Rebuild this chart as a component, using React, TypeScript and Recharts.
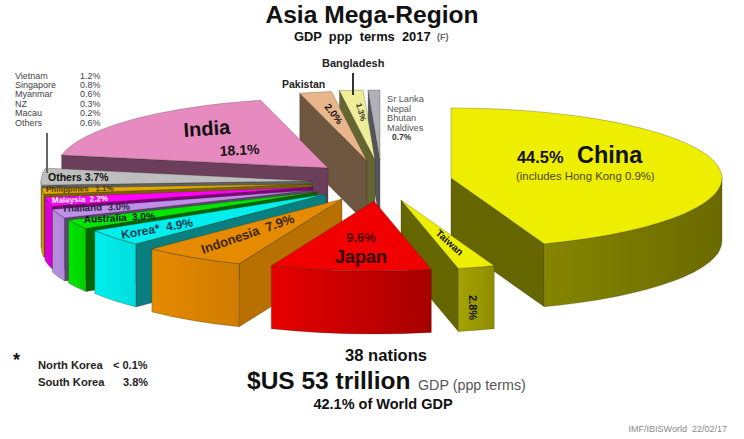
// App.tsx
import { PieChart, Pie } from "recharts";

const categories = [
  "China", "Taiwan", "Japan", "Indonesia", "Korea", "Australia", "Thailand",
  "Malaysia", "Philippines", "Others", "India", "Pakistan", "Bangladesh", "SriLanka",
];
const printedShares = [44.5, 2.8, 9.6, 7.9, 4.9, 3.0, 3.0, 2.2, 1.1, 3.7, 18.1, 2.0, 1.3, 0.7];
const drawnShares = [44.5, 2.2, 9.6, 6.2, 3.9, 2.2, 2.1, 2.1, 1.4, 3.9, 18.1, 1.9, 1.4, 0.7];

const otherNames = ["Vietnam", "Singapore", "Myanmar", "NZ", "Macau", "Others"];
const otherValues = ["1.2%", "0.8%", "0.6%", "0.3%", "0.2%", "0.6%"];
const southAsiaNames = ["Sr Lanka", "Nepal", "Bhutan", "Maldives"];

const data = categories.map((name, i) => ({
  name,
  share: drawnShares[i],
  printed: printedShares[i],
}));

// back to front, svg has no z-index
const paintOrder = [
  "SriLanka", "Bangladesh", "Pakistan", "India", "China", "Taiwan", "Others", "Philippines",
  "Malaysia", "Thailand", "Australia", "Korea", "Indonesia", "Japan",
];

const CX = 375;
const CY = 180;
const TILT = 70 / 271;
const DEPTH = 63;

// how far each slice is pulled out of the pie
const explode: Record<string, [number, number]> = {
  China: [76, -2],
  Taiwan: [26, 20],
  Japan: [-1, 21],
  Indonesia: [-33, 19],
  Korea: [-49, 14],
  Australia: [-58, 12],
  Thailand: [-62, 10],
  Malaysia: [-62, 7],
  Philippines: [-63, 4],
  Others: [-63, 1],
  India: [-47, -12],
  Pakistan: [-8, -19],
  Bangladesh: [0, -20],
  SriLanka: [5, -20],
};

// top, radial wall, rim left, rim right
const colors: Record<string, string[]> = {
  China: ["#eeee00", "#666600", "#858500", "#6a6a00"],
  Taiwan: ["#eeee00", "#666600", "#a3a300", "#8f8f00"],
  Japan: ["#f00000", "#a80000", "#e80000", "#a60000"],
  Indonesia: ["#e68a00", "#b87000", "#e68a00", "#cf7c00"],
  Korea: ["#00eeee", "#0a7f80", "#00eeee", "#00dede"],
  Australia: ["#00e600", "#006600", "#00e600", "#00d000"],
  Thailand: ["#c090e8", "#5a4a70", "#b88fe0", "#b088d8"],
  Malaysia: ["#ff00ff", "#800080", "#e000e0", "#d000d0"],
  Philippines: ["#e0a800", "#806000", "#d8a000", "#d8a000"],
  Others: ["#bebebe", "#606060", "#bebebe", "#bebebe"],
  India: ["#e78ac0", "#6b3f5c", "#6b3f5c", "#6b3f5c"],
  Pakistan: ["#e8b68a", "#6e5540", "#6e5540", "#6e5540"],
  Bangladesh: ["#eeee99", "#666633", "#666633", "#666633"],
  SriLanka: ["#b0b0b8", "#55555f", "#55555f", "#55555f"],
};

const EDGE = "rgba(40,40,20,0.45)";

function Slice(props: any) {
  const { name } = props.payload ?? props;
  const rx: number = props.outerRadius;
  const ry = rx * TILT;
  const [ox, oy] = explode[name];
  const ax = props.cx + ox;
  const ay = props.cy + oy;
  const [top, wall, rimL, rimR] = colors[name];
  // recharts angles -> clock angles
  const a1 = ((90 - props.startAngle) * Math.PI) / 180;
  const a2 = ((90 - props.endAngle) * Math.PI) / 180;
  const pt = (a: number, dy = 0): [number, number] => [
    ax + rx * Math.sin(a),
    ay - ry * Math.cos(a) + dy,
  ];
  const [x1, y1] = pt(a1);
  const [x2, y2] = pt(a2);
  const large = a2 - a1 > Math.PI ? 1 : 0;
  const topPath = `M${ax},${ay}L${x1},${y1}A${rx},${ry} 0 ${large} 1 ${x2},${y2}Z`;
  const radial = (x: number, y: number) =>
    `M${ax},${ay}L${x},${y}L${x},${y + DEPTH}L${ax},${ay + DEPTH}Z`;

  // only the front half of the rim faces the viewer
  const r1 = Math.max(a1, Math.PI / 2);
  const r2 = Math.min(a2, (3 * Math.PI) / 2);
  let rimPath = "";
  if (r2 > r1) {
    const [p, q] = pt(r1);
    const [s, t] = pt(r2);
    const big = r2 - r1 > Math.PI ? 1 : 0;
    rimPath = `M${p},${q}A${rx},${ry} 0 ${big} 1 ${s},${t}L${s},${t + DEPTH}A${rx},${ry} 0 ${big} 0 ${p},${q + DEPTH}Z`;
  }
  const gradId = `rim-${name}`;
  return (
    <g>
      <defs>
        <linearGradient id={gradId} x1="0" x2="1" y1="0" y2="0">
          <stop offset="0" stopColor={rimL} />
          <stop offset="1" stopColor={rimR} />
        </linearGradient>
      </defs>
      {x1 < ax && <path d={radial(x1, y1)} fill={wall} stroke={EDGE} strokeWidth={0.6} />}
      {x2 > ax && <path d={radial(x2, y2)} fill={wall} stroke={EDGE} strokeWidth={0.6} />}
      {rimPath && <path d={rimPath} fill={`url(#${gradId})`} stroke={EDGE} strokeWidth={0.6} />}
      <path d={topPath} fill={top} stroke={EDGE} strokeWidth={0.6} />
    </g>
  );
}

const SANS = "'Liberation Sans', Arial, sans-serif";

function T({ x, y, size, bold, fill = "#111", rotate, anchor, children }: any) {
  return (
    <text
      x={x}
      y={y}
      fontSize={size}
      fontWeight={bold ? 700 : 400}
      fill={fill}
      fontFamily={SANS}
      textAnchor={anchor}
      transform={rotate ? `rotate(${rotate} ${x} ${y})` : undefined}
      xmlSpace="preserve"
    >
      {children}
    </text>
  );
}

export default function App() {
  return (
    <div style={{ position: "absolute", left: 0, top: 0, width: 744, height: 439, background: "#fff" }}>
      <PieChart width={744} height={439} margin={{ top: 0, right: 0, bottom: 0, left: 0 }}>
        {paintOrder.map((n) => (
          <Pie
            key={n}
            data={data}
            dataKey="share"
            nameKey="name"
            cx={CX}
            cy={CY}
            outerRadius={271}
            startAngle={90}
            endAngle={-270}
            stroke="none"
            isAnimationActive={false}
            shape={(p: any) => ((p.payload ?? p).name === n ? <Slice {...p} /> : <g />)}
          />
        ))}
      </PieChart>

      <svg width={744} height={439} style={{ position: "absolute", left: 0, top: 0, pointerEvents: "none" }}>
        <T x={372} y={23} size={24.6} bold anchor="middle">Asia Mega-Region</T>
        <T x={294} y={40.5} size={12.9} bold>{"GDP  ppp  terms  2017"}</T>
        <T x={437} y={40} size={9} bold fill="#666">(F)</T>

        {otherNames.map((n, i) => (
          <T key={n} x={15} y={78.5 + i * 9.4} size={9} fill="#444">{n}</T>
        ))}
        {otherValues.map((v, i) => (
          <T key={i} x={80} y={78.5 + i * 9.4} size={9} fill="#444">{v}</T>
        ))}
        <line x1={47} y1={133} x2={47} y2={173} stroke="#666" strokeWidth={2} />

        <T x={184} y={137} size={20} bold rotate={-4}>India</T>
        <T x={220} y={156} size={14} bold rotate={-3}>18.1%</T>
        <T x={48} y={181} size={10.5} bold>Others 3.7%</T>
        <T x={46} y={192} size={8} bold fill="#4a3800" rotate={-1}>{"Philippines   1.1%"}</T>
        <T x={52} y={203} size={8} bold fill="#fff" rotate={-2}>{"Malaysia  2.2%"}</T>
        <T x={62} y={212} size={9.8} bold fill="#2a2040" rotate={-2}>{"Thailand  3.0%"}</T>
        <T x={84} y={223} size={10} bold fill="#012" rotate={-3}>{"Australia  3.0%"}</T>
        <T x={122} y={239} size={12} bold fill="#073c50" rotate={-10}>{"Korea*  4.9%"}</T>
        <T x={203} y={254} size={13} bold fill="#3a2500" rotate={-19}>{"Indonesia  7.9%"}</T>
        <T x={361} y={242} size={13} bold fill="#500" anchor="middle">9.6%</T>
        <T x={361} y={263} size={18} bold fill="#300" anchor="middle">Japan</T>
        <T x={435} y={234} size={10} bold rotate={42}>Taiwan</T>
        <T x={469} y={295} size={11} bold rotate={90}>2.8%</T>
        <T x={517} y={163} size={16.4} bold>44.5%</T>
        <T x={577} y={163} size={23.5} bold>China</T>
        <T x={516} y={180} size={11.4} fill="#4a4a00">(includes Hong Kong 0.9%)</T>

        <T x={282} y={88} size={10.5} bold fill="#222">Pakistan</T>
        <T x={322} y={67} size={11} bold fill="#222">Bangladesh</T>
        <line x1={353} y1={73} x2={353} y2={95} stroke="#333" strokeWidth={2} />
        <T x={324} y={107} size={10} bold rotate={52}>2.0%</T>
        <T x={356} y={104} size={8} bold fill="#333" rotate={75}>1.3%</T>
        {southAsiaNames.map((n, i) => (
          <T key={n} x={387} y={102 + i * 9.6} size={9.2} fill="#555">{n}</T>
        ))}
        <T x={392} y={140} size={8.5} bold fill="#333">0.7%</T>

        <T x={386} y={361} size={16.6} bold anchor="middle">38 nations</T>
        <T x={247} y={389} size={24.5} bold>$US 53 trillion</T>
        <T x={418} y={390} size={14.3} fill="#555">GDP (ppp terms)</T>
        <T x={383} y={409} size={14.5} bold anchor="middle">42.1% of World GDP</T>
        <T x={13} y={366} size={18} bold>*</T>
        <T x={38} y={369} size={11.2} bold fill="#222">North Korea</T>
        <T x={113} y={369} size={11} bold fill="#222">{"< 0.1%"}</T>
        <T x={38} y={386} size={11.2} bold fill="#222">South Korea</T>
        <T x={123} y={386} size={11} bold fill="#222">3.8%</T>
        <T x={727} y={432} size={9} fill="#888" anchor="end">IMF/IBISWorld  22/02/17</T>
      </svg>
    </div>
  );
}
